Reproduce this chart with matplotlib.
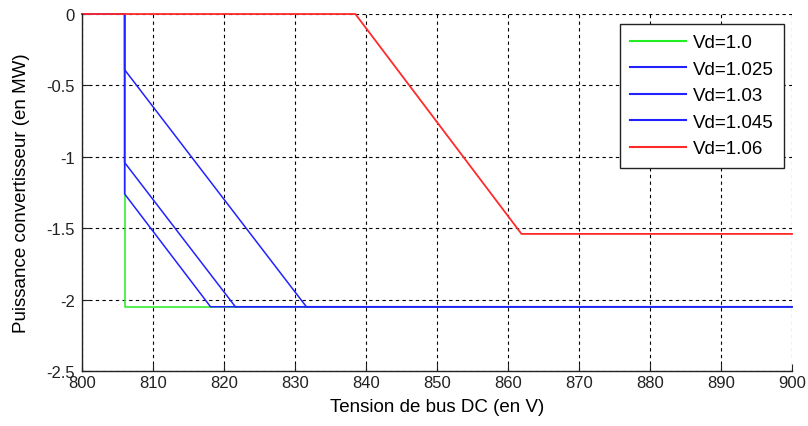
import matplotlib
matplotlib.use("Agg")
import matplotlib.pyplot as plt

plt.rcParams['font.family'] = ['Liberation Sans', 'DejaVu Sans']

# Data (breakpoints)
x_vd100 = [800, 806, 806, 818.1, 900]
p_vd100 = [0, 0, -2.05, -2.05, -2.05]

x_vd1025 = [800, 806, 806, 818.1, 900]
p_vd1025 = [0, 0, -1.26, -2.05, -2.05]

x_vd103 = [800, 806, 806, 821.6, 900]
p_vd103 = [0, 0, -1.04, -2.05, -2.05]

x_vd1045 = [800, 806, 806, 831.6, 900]
p_vd1045 = [0, 0, -0.39, -2.05, -2.05]

x_vd106 = [800, 838.5, 861.9, 900]
p_vd106 = [0, 0, -1.54, -1.54]

labels = ["Vd=1.0", "Vd=1.025", "Vd=1.03", "Vd=1.045", "Vd=1.06"]
xticks = [800, 810, 820, 830, 840, 850, 860, 870, 880, 890, 900]
yticks = [0, -0.5, -1, -1.5, -2, -2.5]
ytick_labels = ["0", "-0.5", "-1", "-1.5", "-2", "-2.5"]

fig = plt.figure(figsize=(8.08, 4.27), dpi=100)
ax = fig.add_axes([82/808, 55/427, 710/808, 357/427])

green = '#22ee22'
blue = '#2222ff'
red = '#ff2a2a'
lw = 1.1
ax.plot(x_vd100, p_vd100, color=green, lw=lw, label=labels[0], clip_on=False)
ax.plot(x_vd1025, p_vd1025, color=blue, lw=lw, label=labels[1], clip_on=False)
ax.plot(x_vd103, p_vd103, color=blue, lw=lw, label=labels[2], clip_on=False)
ax.plot(x_vd1045, p_vd1045, color=blue, lw=lw, label=labels[3], clip_on=False)
ax.plot(x_vd106, p_vd106, color=red, lw=lw + 0.2, label=labels[4], clip_on=False)

ax.set_xlim(800, 900)
ax.set_ylim(-2.5, 0)
ax.set_xticks(xticks)
ax.set_yticks(yticks)
ax.set_yticklabels(ytick_labels)

ax.grid(True, color='black', linestyle=(0, (3, 3)), linewidth=0.8)
ax.set_axisbelow(True)

for s in ['top', 'right']:
    ax.spines[s].set_visible(False)
for s in ['left', 'bottom']:
    ax.spines[s].set_color('#222222')
    ax.spines[s].set_linewidth(1.0)

ax.tick_params(direction='in', length=5, width=0.8, labelsize=12, colors='#222222',
               pad=5)
ax.tick_params(axis='x', pad=3)

ax.set_xlabel("Tension de bus DC (en V)", fontsize=13.5, labelpad=6)
ax.set_ylabel("Puissance convertisseur (en MW)", fontsize=13.5, labelpad=12)

leg = ax.legend(loc='upper right', bbox_to_anchor=((784 - 82) / 710, (372 - 25) / 357),
                borderaxespad=0, fontsize=13.5, fancybox=False, framealpha=1,
                edgecolor='#222222', handlelength=3.0, labelspacing=0.5,
                borderpad=0.55, handletextpad=0.35)
leg.get_frame().set_linewidth(1.0)
for h in leg.get_lines():
    h.set_linewidth(1.5)

fig.savefig("out.png", dpi=100)
